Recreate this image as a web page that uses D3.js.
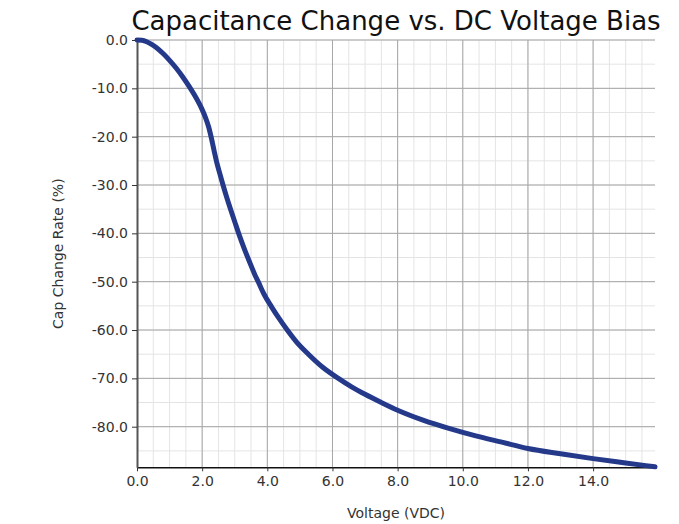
<!DOCTYPE html>
<html>
<head>
<meta charset="utf-8">
<script src="https://cdn.jsdelivr.net/npm/d3@7"></script>
<style>
  html, body { margin: 0; padding: 0; background: #fff; }
  svg { display: block; font-family: "DejaVu Sans", sans-serif; }
</style>
</head>
<body>
<svg id="chart" width="679" height="524"></svg>
<script>
const title = "Capacitance Change vs. DC Voltage Bias";
const xLabel = "Voltage (VDC)";
const yLabel = "Cap Change Rate (%)";

const voltage = [0, 0.15, 0.3, 0.45, 0.6, 0.8, 1.0, 1.2, 1.4, 1.6, 1.8, 2.0, 2.1, 2.2, 2.28, 2.37, 2.44, 2.54, 2.64, 2.77, 2.9, 3.0, 3.12, 3.3, 3.46, 3.62, 3.72, 3.9, 4.13, 4.35, 4.59, 4.9, 5.26, 5.7, 6.18, 6.6, 7.0, 7.5, 8.0, 8.8, 9.6, 10.4, 11.2, 12.0, 13.0, 14.0, 15.0, 15.9];
const capChange = [0, -0.05, -0.35, -0.9, -1.6, -2.8, -4.2, -5.8, -7.6, -9.6, -11.8, -14.4, -16.0, -18.0, -20.2, -23.0, -25.1, -27.6, -30.0, -32.9, -35.6, -37.6, -40.0, -43.3, -46.0, -48.6, -50.0, -52.6, -55.2, -57.5, -59.8, -62.5, -65.0, -67.7, -70.0, -71.8, -73.3, -75.0, -76.6, -78.7, -80.4, -81.9, -83.2, -84.5, -85.6, -86.6, -87.5, -88.3];

const xTicks = [0, 2, 4, 6, 8, 10, 12, 14];
const xMinor = d3.range(0, 16, 0.5);
const yTicks = [0, -10, -20, -30, -40, -50, -60, -70, -80];
const yMinor = d3.range(0, -90, -5);

const xDomain = [0, 15.9];
const yDomain = [-88.4, 0];

const svg = d3.select("#chart");
const L = 137, R = 655, T = 40, B = 467.3;

const x = d3.scaleLinear().domain(xDomain).range([L, R]);
const y = d3.scaleLinear().domain(yDomain).range([B, T]);
const fmt = d => d3.format(".1f")(d).replace("\u2212", "-");

// minor grid
const g = svg.append("g");
g.selectAll(".vx").data(xMinor.filter(v => v > 0 && v <= xDomain[1])).join("line")
  .attr("x1", d => x(d)).attr("x2", d => x(d)).attr("y1", T).attr("y2", B)
  .attr("stroke", "#e4e4e4").attr("stroke-width", 1);
g.selectAll(".hy").data(yMinor.filter(v => v >= yDomain[0])).join("line")
  .attr("x1", L).attr("x2", R).attr("y1", d => y(d)).attr("y2", d => y(d))
  .attr("stroke", "#e4e4e4").attr("stroke-width", 1);
// major grid
g.selectAll(".mx").data(xTicks.filter(v => v > 0)).join("line")
  .attr("x1", d => x(d)).attr("x2", d => x(d)).attr("y1", T).attr("y2", B)
  .attr("stroke", "#a6a6a6").attr("stroke-width", 1);
g.selectAll(".my").data(yTicks).join("line")
  .attr("x1", L).attr("x2", R).attr("y1", d => y(d)).attr("y2", d => y(d))
  .attr("stroke", "#a6a6a6").attr("stroke-width", 1);

// axes
const xAxis = d3.axisBottom(x).tickValues(xTicks).tickFormat(fmt).tickSize(4).tickSizeOuter(0);
const yAxis = d3.axisLeft(y).tickValues(yTicks).tickFormat(fmt).tickSize(5).tickSizeOuter(0);

const gx = svg.append("g").attr("transform", `translate(0,${B})`).call(xAxis);
gx.select(".domain").attr("stroke", "#111").attr("stroke-width", 1.5);
gx.selectAll(".tick line").attr("stroke", "#333");
gx.selectAll("text").attr("font-size", 14).attr("fill", "#333").attr("dy", "0.71em").attr("y", 9)
  .attr("font-family", "DejaVu Sans");

const gy = svg.append("g").attr("transform", `translate(${L},0)`).call(yAxis);
gy.select(".domain").attr("stroke", "#555").attr("stroke-width", 2);
gy.selectAll(".tick line").attr("stroke", "#333");
gy.selectAll("text").attr("font-size", 14).attr("fill", "#333").attr("x", -9)
  .attr("font-family", "DejaVu Sans");

// data line
const pts = voltage.map((v, i) => [v, capChange[i]]);
const line = d3.line().x(d => x(d[0])).y(d => y(d[1])).curve(d3.curveMonotoneX);
svg.append("path").datum(pts).attr("d", line)
  .attr("fill", "none").attr("stroke", "#25398a").attr("stroke-width", 5)
  .attr("stroke-linejoin", "round").attr("stroke-linecap", "round");

// titles
svg.append("text").attr("x", (L + R) / 2).attr("y", 30).attr("text-anchor", "middle")
  .attr("font-size", 26).attr("fill", "#111").text(title);
svg.append("text").attr("x", (L + R) / 2).attr("y", 518).attr("text-anchor", "middle")
  .attr("font-size", 14).attr("fill", "#333").text(xLabel);
svg.append("text").attr("transform", `translate(63,${(T + B) / 2}) rotate(-90)`).attr("text-anchor", "middle")
  .attr("font-size", 14).attr("fill", "#333").text(yLabel);
</script>
</body>
</html>
